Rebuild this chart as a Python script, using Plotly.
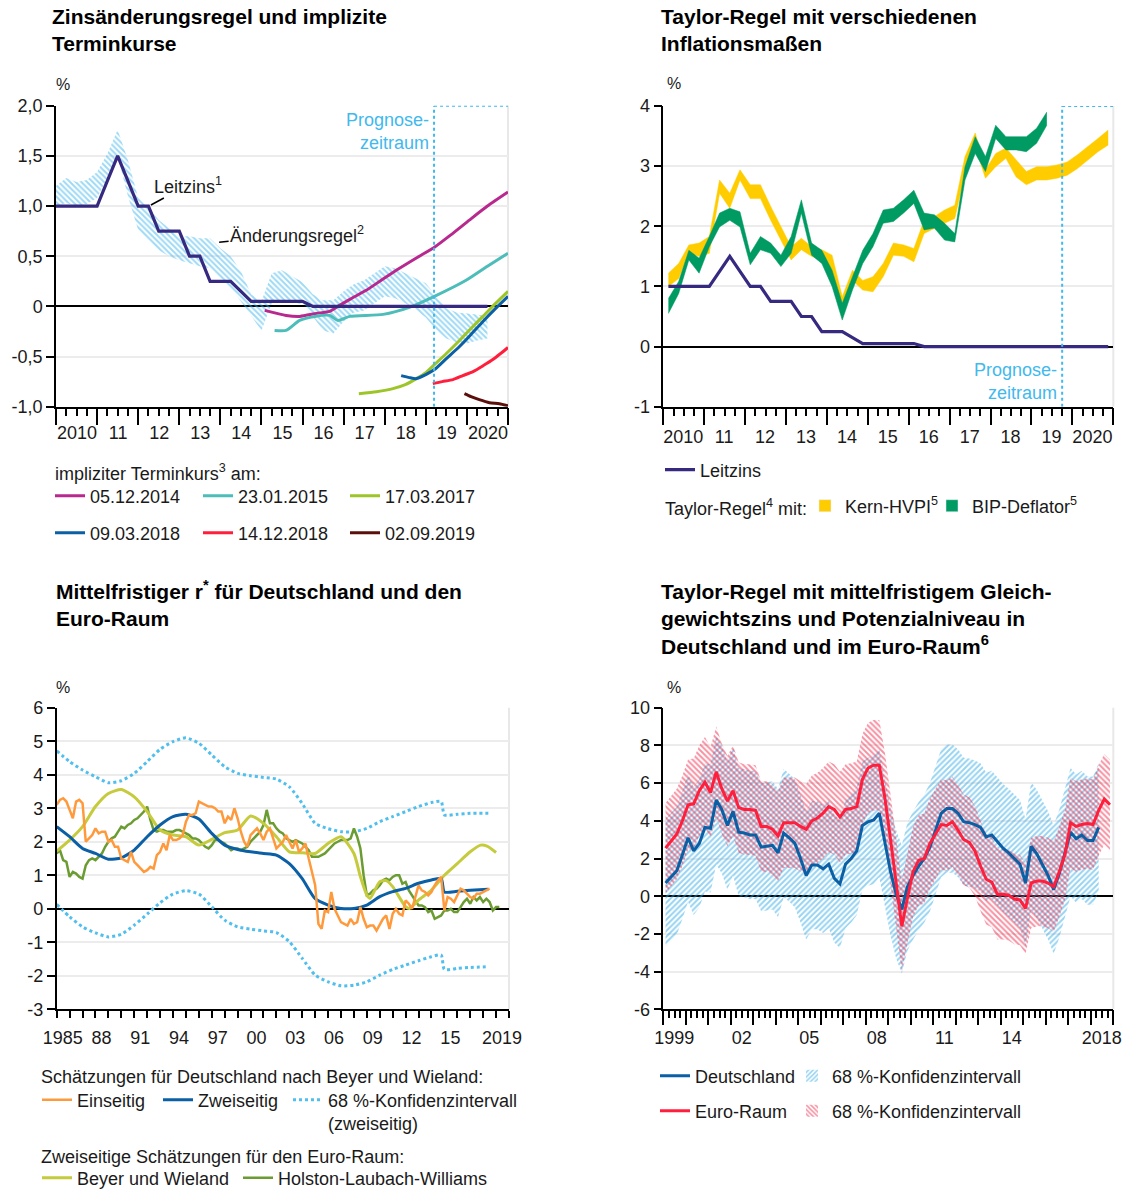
import plotly.graph_objects as go

W, H = 1126, 1191
FONT = "Liberation Sans, Arial, sans-serif"
TXT = "#1a1a1a"

# ================= Panel 1: Zinsänderungsregel und implizite Terminkurse =================
leitzins = [1.0, 1.0, 1.0, 1.0, 1.0, 1.25, 1.5, 1.25, 1.0, 1.0, 0.75, 0.75,
            0.75, 0.5, 0.5, 0.25, 0.25, 0.25, 0.15, 0.05, 0.05, 0.05, 0.05, 0.05,
            0.05, 0.0, 0.0, 0.0, 0.0, 0.0, 0.0, 0.0, 0.0, 0.0, 0.0, 0.0,
            0.0, 0.0, 0.0, 0.0, 0.0, 0.0, 0.0, 0.0]
rule_upper = [1.2, 1.28, 1.24, 1.26, 1.34, 1.52, 1.76, 1.46, 1.08, 0.98, 0.86, 0.78,
              0.7, 0.7, 0.68, 0.68, 0.58, 0.5, 0.35, 0.12, 0.05, 0.33, 0.36, 0.3,
              0.24, 0.12, 0.06, 0.06, 0.15, 0.22, 0.26, 0.33, 0.4, 0.38, 0.33, 0.28,
              0.23, 0.1, -0.02, -0.06, -0.07, -0.08, -0.1]
rule_lower = [1.0, 1.03, 1.0, 1.02, 1.08, 1.28, 1.5, 1.1, 0.76, 0.66, 0.56, 0.5,
              0.46, 0.43, 0.4, 0.38, 0.28, 0.18, 0.05, -0.1, -0.24, 0.03, 0.06, 0.04,
              0.02, -0.1, -0.24, -0.27, -0.15, -0.06, -0.04, 0.03, 0.1, 0.08, 0.03, -0.03,
              -0.11, -0.24, -0.32, -0.36, -0.37, -0.34, -0.32]

fwd_a_x = [2015.08, 2015.6, 2015.93, 2016.34, 2016.66, 2016.9, 2017.15, 2017.55, 2017.95, 2018.36, 2018.8, 2019.21, 2019.6, 2020.06, 2020.5, 2021.0]
fwd_a_y = [-0.04, -0.09, -0.1, -0.07, -0.05, 0.01, 0.07, 0.16, 0.27, 0.38, 0.49, 0.59, 0.71, 0.86, 1.0, 1.14]
fwd_b_x = [2015.32, 2015.6, 2015.93, 2016.3, 2016.66, 2016.86, 2017.15, 2017.96, 2018.6, 2019.21, 2019.98, 2020.5, 2021.0]
fwd_b_y = [-0.24, -0.24, -0.14, -0.1, -0.09, -0.14, -0.1, -0.08, -0.01, 0.1, 0.26, 0.4, 0.53]
fwd_c_x = [2017.37, 2017.8, 2018.2, 2018.5, 2018.77, 2019.0, 2019.21, 2019.5, 2019.82, 2020.1, 2020.39, 2020.7, 2021.0]
fwd_c_y = [-0.87, -0.85, -0.82, -0.78, -0.72, -0.66, -0.58, -0.47, -0.34, -0.22, -0.1, 0.03, 0.15]
fwd_d_x = [2018.4, 2018.6, 2018.77, 2019.0, 2019.21, 2019.5, 2019.82, 2020.1, 2020.39, 2020.7, 2021.0]
fwd_d_y = [-0.69, -0.71, -0.72, -0.68, -0.63, -0.52, -0.4, -0.28, -0.15, -0.02, 0.1]
fwd_e_x = [2019.17, 2019.4, 2019.66, 2019.9, 2020.15, 2020.4, 2020.63, 2020.82, 2021.0]
fwd_e_y = [-0.77, -0.75, -0.73, -0.69, -0.65, -0.59, -0.53, -0.47, -0.41]
fwd_f_x = [2019.94, 2020.1, 2020.3, 2020.55, 2020.79, 2021.0]
fwd_f_y = [-0.87, -0.9, -0.93, -0.96, -0.97, -0.99]
fwd_names = ["05.12.2014", "23.01.2015", "17.03.2017", "09.03.2018", "14.12.2018", "02.09.2019"]

prognose_p1 = 2019.2
prognose_p2 = 2019.75

year_ticks_p12 = list(range(2010, 2021))
year_text_p12 = ["2010", "11", "12", "13", "14", "15", "16", "17", "18", "19", "2020"]
year_bounds_p12 = list(range(2010, 2022))
y_vals_p1 = [-1.0, -0.5, 0.0, 0.5, 1.0, 1.5, 2.0]
y_text_p1 = ["-1,0", "-0,5", "0", "0,5", "1,0", "1,5", "2,0"]

# ================= Panel 2: Taylor-Regel mit verschiedenen Inflationsmaßen =================
hvpi_upper = [1.22, 1.38, 1.69, 1.72, 1.83, 2.77, 2.55, 2.94, 2.69, 2.69, 2.33, 1.99,
              1.66, 1.80, 1.66, 1.61, 1.52, 0.83, 1.27, 1.10, 1.16, 1.38, 1.72, 1.69,
              1.63, 2.10, 2.16, 2.27, 2.35, 3.16, 3.55, 2.94, 3.21, 3.30, 3.10, 2.91,
              2.99, 2.99, 3.02, 3.07, 3.19, 3.32, 3.46, 3.60]
hvpi_lower = [1.00, 1.13, 1.55, 1.50, 1.55, 2.55, 2.30, 2.77, 2.46, 2.46, 2.10, 1.77,
              1.44, 1.61, 1.50, 1.44, 1.16, 0.61, 1.10, 0.94, 0.91, 1.16, 1.52, 1.50,
              1.41, 1.88, 1.97, 2.05, 2.13, 2.88, 3.32, 2.80, 2.99, 3.13, 2.82, 2.69,
              2.77, 2.77, 2.80, 2.85, 2.96, 3.10, 3.24, 3.35]
defl_upper = [0.80, 1.08, 1.60, 1.47, 1.83, 2.22, 2.30, 2.24, 1.55, 1.83, 1.72, 1.52,
              1.83, 2.44, 1.72, 1.60, 1.27, 0.72, 1.16, 1.60, 1.88, 2.27, 2.30, 2.44,
              2.60, 2.22, 2.19, 2.05, 1.88, 2.99, 3.49, 3.16, 3.68, 3.49, 3.49, 3.49,
              3.63, 3.90]
defl_lower = [0.55, 0.88, 1.44, 1.22, 1.66, 1.99, 2.10, 1.99, 1.36, 1.61, 1.55, 1.33,
              1.55, 2.22, 1.52, 1.38, 1.00, 0.44, 0.94, 1.38, 1.66, 2.05, 2.08, 2.22,
              2.38, 1.94, 1.97, 1.77, 1.74, 2.77, 3.21, 2.91, 3.46, 3.27, 3.27, 3.24,
              3.38, 3.68]
y_vals_p2 = [-1, 0, 1, 2, 3, 4]
y_text_p2 = ["-1", "0", "1", "2", "3", "4"]

# ================= Panel 3: Mittelfristiger r* =================
einseitig = [3.1, 3.25, 3.3, 3.2, 2.95, 2.7, 3.2, 3.25, 3.15, 2.0, 2.1, 2.2,
             2.4, 2.25, 2.3, 2.3, 2.0, 2.05, 1.85, 1.85, 1.5, 1.45, 1.4, 1.7,
             1.4, 1.3, 1.2, 1.1, 1.15, 1.25, 1.2, 1.6, 1.7, 1.95, 1.75, 2.2,
             2.05, 2.05, 2.1, 2.2, 2.6, 2.8, 2.8, 2.85, 3.2, 3.15, 3.1, 3.05,
             3.05, 3.0, 2.9, 2.9, 2.55, 2.75, 2.65, 3.0, 2.7, 2.3, 2.0, 1.85,
             2.2, 2.3, 2.4, 2.25, 2.05, 2.3, 2.4, 2.1, 1.8, 1.9, 2.0, 2.2,
             2.0, 1.8, 2.05, 1.7, 1.8, 1.95, 1.5, 1.1, 0.7, -0.45, -0.6, -0.05,
             -0.1, 0.5, 0.0, -0.2, -0.4, -0.45, -0.5, -0.3, -0.45, -0.4, 0.05, -0.3,
             -0.55, -0.5, -0.5, -0.65, -0.45, -0.3, -0.2, -0.6, -0.15, 0.0, -0.15, -0.2,
             0.25, 0.15, 0.0, 0.35, 0.7, 0.55, 0.5, 0.4, 0.5, 0.7, 0.85, 0.95,
             -0.05, 0.35, 0.3, 0.2, 0.4, 0.6, 0.55, 0.45, 0.35, 0.3, 0.45, 0.45,
             0.5, 0.55, 0.6]
hlw = [1.65, 1.75, 1.45, 1.4, 0.95, 1.1, 1.05, 0.95, 0.9, 1.3, 1.45, 1.5,
       1.45, 1.55, 1.65, 1.85, 2.0, 2.1, 2.15, 2.3, 2.45, 2.4, 2.5, 2.55,
       2.65, 2.7, 2.8, 2.9, 3.05, 2.65, 2.35, 2.3, 2.35, 2.35, 2.3, 2.3,
       2.3, 2.35, 2.35, 2.3, 2.25, 2.2, 2.1, 2.1, 2.05, 1.95, 1.85, 1.8,
       1.9, 2.05, 2.05, 2.0, 1.95, 1.85, 1.75, 1.8, 1.8, 1.75, 1.8, 1.85,
       2.0, 2.1, 2.2, 2.3, 2.5, 2.95, 2.55, 2.55, 2.4, 2.3, 2.25, 2.1,
       2.05, 2.0, 2.05, 2.0, 1.95, 1.85, 1.75, 1.55, 1.55, 1.55, 1.6, 1.65,
       1.75, 1.85, 1.95, 2.0, 2.05, 2.05, 2.05, 2.1, 2.4, 2.15, 1.8, 1.0,
       0.4, 0.45, 0.55, 0.6, 0.7, 0.85, 0.9, 0.85, 0.95, 1.0, 1.0, 0.75,
       0.8, 0.55, 0.4, 0.25, 0.1, 0.1, 0.05, -0.1, -0.05, -0.3, -0.25, -0.2,
       -0.05, -0.05, 0.0, -0.1, -0.1, 0.05, 0.2, 0.3, 0.15, 0.35, 0.25, 0.35,
       0.2, 0.3, 0.2, -0.05, 0.05, 0.05]
zweiseitig_x = [1985, 1986, 1987, 1988, 1989, 1990, 1991, 1992, 1993, 1994, 1995, 1996,
                1997, 1998, 1999, 2000, 2001, 2002, 2003, 2004, 2005, 2006, 2007, 2008,
                2009, 2010, 2011, 2012, 2013, 2014, 2014.75, 2015.0, 2016, 2017, 2018.4]
zweiseitig = [2.45, 2.15, 1.8, 1.65, 1.48, 1.52, 1.75, 2.15, 2.5, 2.75, 2.82, 2.68,
              2.25, 1.9, 1.77, 1.7, 1.65, 1.6, 1.35, 0.9, 0.3, 0.11, 0.01, 0.01,
              0.11, 0.36, 0.51, 0.61, 0.76, 0.86, 0.9, 0.5, 0.52, 0.55, 0.58]
ci_upper = [4.71, 4.39, 4.14, 3.94, 3.76, 3.82, 4.04, 4.39, 4.76, 4.99, 5.1, 4.94,
            4.59, 4.24, 4.04, 3.97, 3.92, 3.87, 3.64, 3.14, 2.55, 2.39, 2.3, 2.3,
            2.4, 2.6, 2.75, 2.9, 3.05, 3.17, 3.2, 2.8, 2.82, 2.85, 2.85]
ci_lower = [0.13, -0.24, -0.54, -0.72, -0.84, -0.76, -0.49, -0.16, 0.18, 0.44, 0.54, 0.44,
            0.06, -0.34, -0.54, -0.61, -0.66, -0.71, -0.98, -1.48, -1.98, -2.18, -2.3, -2.28,
            -2.18, -1.98, -1.81, -1.68, -1.55, -1.43, -1.38, -1.81, -1.78, -1.75, -1.73]
bw_euro_x = [1985, 1986, 1987, 1988, 1989, 1990, 1991, 1992, 1993, 1994, 1995, 1996,
             1997, 1998, 1999, 2000, 2001, 2002, 2003, 2004, 2005, 2006, 2007, 2008,
             2008.5, 2009, 2009.25, 2010, 2010.5, 2011, 2012, 2012.3, 2013, 2014, 2015,
             2016, 2017, 2017.8, 2018.3, 2019.0]
bw_euro = [1.72, 2.05, 2.45, 3.05, 3.44, 3.56, 3.34, 2.9, 2.35, 2.2, 2.15, 1.9,
           2.07, 2.27, 2.35, 2.77, 2.55, 2.15, 1.7, 1.67, 1.65, 1.95, 2.15, 1.65,
           0.96, 0.41, 0.31, 0.81, 0.84, 0.66, 0.06, 0.01, 0.26, 0.56, 1.0,
           1.35, 1.7, 1.9, 1.87, 1.68]
x_ticks_p3 = [1985, 1988, 1991, 1994, 1997, 2000, 2003, 2006, 2009, 2012, 2015, 2019]
x_text_p3 = ["1985", "88", "91", "94", "97", "00", "03", "06", "09", "12", "15", "2019"]
y_vals_p3 = [-3, -2, -1, 0, 1, 2, 3, 4, 5, 6]
y_text_p3 = ["-3", "-2", "-1", "0", "1", "2", "3", "4", "5", "6"]

# ================= Panel 4: Taylor-Regel mit mittelfristigem Gleichgewichtszins =================
de_rate = [0.7, 1.0, 1.35, 2.2, 3.1, 2.4, 2.8, 3.65, 3.6, 5.1, 4.6, 3.75,
           4.5, 3.4, 3.35, 3.25, 3.25, 2.6, 2.65, 2.7, 2.3, 3.35, 3.1, 2.8,
           2.0, 1.1, 1.65, 1.65, 1.45, 1.7, 0.95, 0.65, 1.7, 2.0, 2.4, 3.75,
           3.95, 4.05, 4.4, 2.8, 1.3, 0.1, -0.7, 0.5, 1.1, 1.6, 2.0, 2.6,
           3.5, 4.4, 4.65, 4.65, 4.4, 3.95, 3.9, 3.8, 3.65, 3.15, 3.25, 2.9,
           2.55, 2.3, 2.0, 1.7, 0.7, 2.65, 2.25, 1.65, 1.1, 0.35, 1.2, 2.3,
           3.4, 3.05, 3.25, 2.95, 2.95, 3.65]
de_upper = [4.1, 4.4, 4.75, 5.6, 6.5, 5.8, 6.2, 7.05, 7.0, 8.5, 8.0, 7.15,
            7.9, 6.8, 6.75, 6.65, 6.65, 6.0, 6.05, 6.1, 5.7, 6.75, 6.5, 6.2,
            5.4, 4.5, 5.05, 5.05, 4.85, 5.1, 4.35, 4.05, 5.1, 5.4, 5.8, 7.15,
            7.35, 7.45, 7.8, 6.2, 4.7, 3.5, 2.7, 3.9, 4.5, 5.0, 5.4, 6.0,
            6.9, 7.8, 8.05, 8.05, 7.8, 7.35, 7.3, 7.2, 7.05, 6.55, 6.65, 6.3,
            5.95, 5.7, 5.4, 5.1, 4.1, 6.05, 5.65, 5.05, 4.5, 3.75, 4.6, 5.7,
            6.8, 6.45, 6.65, 6.35, 6.35, 7.05]
de_lower = [-2.7, -2.4, -2.05, -1.2, -0.3, -1.0, -0.6, 0.25, 0.2, 1.7, 1.2, 0.35,
            1.1, 0.0, -0.05, -0.15, -0.15, -0.8, -0.75, -0.7, -1.1, -0.05, -0.3, -0.6,
            -1.4, -2.3, -1.75, -1.75, -1.95, -1.7, -2.45, -2.75, -1.7, -1.4, -1.0, 0.35,
            0.55, 0.65, 1.0, -0.6, -2.1, -3.3, -4.1, -2.9, -2.3, -1.8, -1.4, -0.8,
            0.1, 1.0, 1.25, 1.25, 1.0, 0.55, 0.5, 0.4, 0.25, -0.25, -0.15, -0.5,
            -0.85, -1.1, -1.4, -1.7, -2.7, -0.75, -1.15, -1.75, -2.3, -3.05, -2.2, -1.1,
            0.0, -0.35, -0.15, -0.45, -0.45, 0.25]
ea_rate = [2.55, 2.9, 3.3, 4.0, 4.85, 4.9, 5.6, 6.05, 5.5, 6.6, 5.7, 5.05,
           5.6, 4.7, 4.6, 4.6, 4.55, 3.7, 3.7, 3.55, 3.2, 3.9, 3.9, 3.9,
           3.7, 3.55, 4.0, 4.15, 4.4, 4.75, 4.6, 4.2, 4.6, 4.65, 4.75, 6.2,
           6.8, 6.95, 6.95, 5.2, 3.0, 0.8, -1.6, -0.1, 1.3, 1.9, 2.0, 2.8,
           3.3, 3.8, 3.75, 3.95, 3.5, 3.0, 2.85, 2.4, 1.6, 0.9, 0.75, 0.1,
           0.1, 0.05, -0.15, -0.2, -0.65, 0.7, 0.8, 0.8, 0.7, 0.5, 1.3, 2.2,
           3.9, 3.7, 3.8, 3.85, 3.8, 4.55, 5.15, 4.85]
ea_upper = [4.95, 5.3, 5.7, 6.4, 7.25, 7.3, 8.0, 8.45, 7.9, 9.0, 8.1, 7.45,
            8.0, 7.1, 7.0, 7.0, 6.95, 6.1, 6.1, 5.95, 5.6, 6.3, 6.3, 6.3,
            6.1, 5.95, 6.4, 6.55, 6.8, 7.15, 7.0, 6.6, 7.0, 7.05, 7.15, 8.6,
            9.2, 9.35, 9.35, 7.6, 5.4, 3.2, 0.8, 2.3, 3.7, 4.3, 4.4, 5.2,
            5.7, 6.2, 6.15, 6.35, 5.9, 5.4, 5.25, 4.8, 4.0, 3.3, 3.15, 2.5,
            2.5, 2.45, 2.25, 2.2, 1.75, 3.1, 3.2, 3.2, 3.1, 2.9, 3.7, 4.6,
            6.3, 6.1, 6.2, 6.25, 6.2, 6.95, 7.55, 7.25]
ea_lower = [0.15, 0.5, 0.9, 1.6, 2.45, 2.5, 3.2, 3.65, 3.1, 4.2, 3.3, 2.65,
            3.2, 2.3, 2.2, 2.2, 2.15, 1.3, 1.3, 1.15, 0.8, 1.5, 1.5, 1.5,
            1.3, 1.15, 1.6, 1.75, 2.0, 2.35, 2.2, 1.8, 2.2, 2.25, 2.35, 3.8,
            4.4, 4.55, 4.55, 2.8, 0.6, -1.6, -4.0, -2.5, -1.1, -0.5, -0.4, 0.4,
            0.9, 1.4, 1.35, 1.55, 1.1, 0.6, 0.45, 0.0, -0.8, -1.5, -1.65, -2.3,
            -2.3, -2.35, -2.55, -2.6, -3.05, -1.7, -1.6, -1.6, -1.7, -1.9, -1.1, -0.2,
            1.5, 1.3, 1.4, 1.45, 1.4, 2.15, 2.75, 2.45]
x_ticks_p4 = [1999, 2002, 2005, 2008, 2011, 2014, 2018]
x_text_p4 = ["1999", "02", "05", "08", "11", "14", "2018"]
year_bounds_p4 = list(range(1999, 2020))
y_vals_p4 = [-6, -4, -2, 0, 2, 4, 6, 8, 10]
y_text_p4 = ["-6", "-4", "-2", "0", "2", "4", "6", "8", "10"]

# ================= colours =================
C_LEITZ = "#362a80"
C_HATCH = "#3db4ec"
C_MAG = "#b8298f"
C_TEAL = "#4dbdba"
C_YGR = "#9dc52a"
C_BLUE = "#0b5fa5"
C_RED = "#ff1f3d"
C_BROWN = "#5b0f0b"
C_PROG = "#3fb9ee"
C_YEL = "#ffcc00"
C_GRN = "#009a63"
C_ORA = "#ff9a3c"
C_OLY = "#c5cb3c"
C_HLW = "#6b9c32"
C_CI = "#50bfee"
C_DEB = "#2fa8e4"
C_EAR = "#ee2445"

fig = go.Figure()


def fx(p):
    return p / W


def fy(p):
    return 1 - p / H


# ---------- panel 1 traces ----------
q1 = [2010 + 0.25 * i for i in range(len(rule_upper))]
fig.add_trace(go.Scatter(x=q1, y=rule_lower, xaxis="x", yaxis="y", mode="lines",
                         line=dict(width=0, color=C_HATCH), showlegend=False, hoverinfo="skip"))
fig.add_trace(go.Scatter(x=q1, y=rule_upper, xaxis="x", yaxis="y", mode="lines",
                         line=dict(width=0, color=C_HATCH), fill="tonexty", fillcolor="rgba(0,0,0,0)",
                         fillpattern=dict(shape="\\", fgcolor=C_HATCH, bgcolor="rgba(0,0,0,0)",
                                          size=4, solidity=0.5),
                         showlegend=False, hoverinfo="skip"))
fwd_cols = [C_MAG, C_TEAL, C_YGR, C_BLUE, C_RED, C_BROWN]
fwd_xs = [fwd_a_x, fwd_b_x, fwd_c_x, fwd_d_x, fwd_e_x, fwd_f_x]
fwd_ys = [fwd_a_y, fwd_b_y, fwd_c_y, fwd_d_y, fwd_e_y, fwd_f_y]
for i, (xs, ys, col, nm) in enumerate(zip(fwd_xs, fwd_ys, fwd_cols, fwd_names)):
    fig.add_trace(go.Scatter(x=xs, y=ys, xaxis="x", yaxis="y", mode="lines", name=nm,
                             line=dict(color=col, width=3, shape="spline", smoothing=0.6),
                             legend="legend" if i == 0 else f"legend{i + 1}", hoverinfo="skip"))
fig.add_trace(go.Scatter(x=q1, y=leitzins[:len(q1)], xaxis="x", yaxis="y", mode="lines",
                         line=dict(color=C_LEITZ, width=3.2), showlegend=False, hoverinfo="skip"))

# ---------- panel 2 traces ----------
q2 = [2010.125 + 0.25 * i for i in range(len(leitzins))]
fig.add_trace(go.Scatter(x=q2[:len(hvpi_lower)], y=hvpi_lower, xaxis="x2", yaxis="y2", mode="lines",
                         line=dict(width=0.5, color=C_YEL), showlegend=False, hoverinfo="skip"))
fig.add_trace(go.Scatter(x=q2[:len(hvpi_upper)], y=hvpi_upper, xaxis="x2", yaxis="y2", mode="lines",
                         line=dict(width=0.5, color=C_YEL), fill="tonexty", fillcolor=C_YEL,
                         showlegend=False, hoverinfo="skip"))
fig.add_trace(go.Scatter(x=q2[:len(defl_lower)], y=defl_lower, xaxis="x2", yaxis="y2", mode="lines",
                         line=dict(width=0.5, color=C_GRN), showlegend=False, hoverinfo="skip"))
fig.add_trace(go.Scatter(x=q2[:len(defl_upper)], y=defl_upper, xaxis="x2", yaxis="y2", mode="lines",
                         line=dict(width=0.5, color=C_GRN), fill="tonexty", fillcolor=C_GRN,
                         showlegend=False, hoverinfo="skip"))
fig.add_trace(go.Scatter(x=q2, y=leitzins, xaxis="x2", yaxis="y2", mode="lines", name="Leitzins",
                         line=dict(color=C_LEITZ, width=3.2), legend="legend7", hoverinfo="skip"))
fig.add_trace(go.Bar(x=[None], y=[None], xaxis="x2", yaxis="y2", name="Kern-HVPI<sup>5</sup>",
                     marker=dict(color=C_YEL), legend="legend8", hoverinfo="skip"))
fig.add_trace(go.Bar(x=[None], y=[None], xaxis="x2", yaxis="y2", name="BIP-Deflator<sup>5</sup>",
                     marker=dict(color=C_GRN), legend="legend9", hoverinfo="skip"))

# ---------- panel 3 traces ----------
q3e = [1985 + 0.25 * i for i in range(len(einseitig))]
q3h = [1985 + 0.25 * i for i in range(len(hlw))]
fig.add_trace(go.Scatter(x=zweiseitig_x, y=ci_lower, xaxis="x3", yaxis="y3", mode="lines",
                         line=dict(color=C_CI, width=3, dash="dot", shape="spline", smoothing=0.6),
                         showlegend=False, hoverinfo="skip"))
fig.add_trace(go.Scatter(x=zweiseitig_x, y=ci_upper, xaxis="x3", yaxis="y3", mode="lines",
                         name="68 %-Konfidenzintervall<br>(zweiseitig)",
                         line=dict(color=C_CI, width=3, dash="dot", shape="spline", smoothing=0.6),
                         legend="legend12", hoverinfo="skip"))
fig.add_trace(go.Scatter(x=q3h, y=hlw, xaxis="x3", yaxis="y3", mode="lines",
                         name="Holston-Laubach-Williams", line=dict(color=C_HLW, width=2.5),
                         legend="legend14", hoverinfo="skip"))
fig.add_trace(go.Scatter(x=bw_euro_x, y=bw_euro, xaxis="x3", yaxis="y3", mode="lines",
                         name="Beyer und Wieland",
                         line=dict(color=C_OLY, width=3, shape="spline", smoothing=0.6),
                         legend="legend13", hoverinfo="skip"))
fig.add_trace(go.Scatter(x=zweiseitig_x, y=zweiseitig, xaxis="x3", yaxis="y3", mode="lines",
                         name="Zweiseitig",
                         line=dict(color=C_BLUE, width=3, shape="spline", smoothing=0.6),
                         legend="legend11", hoverinfo="skip"))
fig.add_trace(go.Scatter(x=q3e, y=einseitig, xaxis="x3", yaxis="y3", mode="lines",
                         name="Einseitig", line=dict(color=C_ORA, width=2.5),
                         legend="legend10", hoverinfo="skip"))

# ---------- panel 4 traces ----------
q4d = [1999.1 + 0.25 * i for i in range(len(de_rate))]
q4e = [1999.1 + 0.25 * i for i in range(len(ea_rate))]
fig.add_trace(go.Scatter(x=q4d, y=de_lower, xaxis="x4", yaxis="y4", mode="lines",
                         line=dict(width=0, color=C_DEB), showlegend=False, hoverinfo="skip"))
fig.add_trace(go.Scatter(x=q4d, y=de_upper, xaxis="x4", yaxis="y4", mode="lines",
                         line=dict(width=0, color=C_DEB), fill="tonexty", fillcolor="rgba(0,0,0,0)",
                         fillpattern=dict(shape="/", fgcolor=C_DEB, bgcolor="rgba(0,0,0,0)",
                                          size=4, solidity=0.5),
                         showlegend=False, hoverinfo="skip"))
fig.add_trace(go.Scatter(x=q4e, y=ea_lower, xaxis="x4", yaxis="y4", mode="lines",
                         line=dict(width=0, color=C_EAR), showlegend=False, hoverinfo="skip"))
fig.add_trace(go.Scatter(x=q4e, y=ea_upper, xaxis="x4", yaxis="y4", mode="lines",
                         line=dict(width=0, color=C_EAR), fill="tonexty", fillcolor="rgba(0,0,0,0)",
                         fillpattern=dict(shape="\\", fgcolor=C_EAR, bgcolor="rgba(0,0,0,0)",
                                          size=4, solidity=0.5),
                         showlegend=False, hoverinfo="skip"))
fig.add_trace(go.Scatter(x=q4d, y=de_rate, xaxis="x4", yaxis="y4", mode="lines", name="Deutschland",
                         line=dict(color=C_BLUE, width=3), legend="legend15", hoverinfo="skip"))
fig.add_trace(go.Scatter(x=q4e, y=ea_rate, xaxis="x4", yaxis="y4", mode="lines", name="Euro-Raum",
                         line=dict(color=C_RED, width=3), legend="legend17", hoverinfo="skip"))
fig.add_trace(go.Bar(x=[None], y=[None], xaxis="x4", yaxis="y4", name="68 %-Konfidenzintervall",
                     marker=dict(color="rgba(0,0,0,0)", line=dict(width=0),
                                 pattern=dict(shape="/", fgcolor=C_DEB, bgcolor="rgba(0,0,0,0)",
                                              size=4, solidity=0.5)),
                     legend="legend16", hoverinfo="skip"))
fig.add_trace(go.Bar(x=[None], y=[None], xaxis="x4", yaxis="y4", name="68 %-Konfidenzintervall",
                     marker=dict(color="rgba(0,0,0,0)", line=dict(width=0),
                                 pattern=dict(shape="\\", fgcolor=C_EAR, bgcolor="rgba(0,0,0,0)",
                                              size=4, solidity=0.5)),
                     legend="legend18", hoverinfo="skip"))

# invisible traces that carry the overlay axes with the long yearly ticks
for xa, ya in [("x5", "y"), ("x6", "y2"), ("x7", "y4")]:
    fig.add_trace(go.Scatter(x=[None], y=[None], xaxis=xa, yaxis=ya, mode="lines",
                             showlegend=False, hoverinfo="skip"))

# ---------- axes ----------
tickfont = dict(family=FONT, size=18, color=TXT)


def xax(dom, rng, tv, tt, ticklen, shift, minor_dtick=None, minor_len=8, standoff=0):
    d = dict(domain=[fx(dom[0]), fx(dom[1])], range=rng, tickmode="array", tickvals=tv, ticktext=tt,
             ticks="outside", ticklen=ticklen, tickwidth=1.5, tickcolor="black",
             showline=True, linecolor="black", linewidth=1.5, showgrid=False, zeroline=False,
             tickfont=tickfont, ticklabelshift=shift, ticklabelstandoff=standoff, fixedrange=True,
             automargin=False)
    if minor_dtick:
        d["minor"] = dict(dtick=minor_dtick, tick0=rng[0], ticks="outside", ticklen=minor_len,
                          tickwidth=1.5, tickcolor="black", showgrid=False)
    return d


def xover(dom, rng, tv, ticklen, over, anchor):
    return dict(domain=[fx(dom[0]), fx(dom[1])], range=rng, tickmode="array", tickvals=tv,
                showticklabels=False, ticks="outside", ticklen=ticklen, tickwidth=1.5,
                tickcolor="black", showline=False, showgrid=False, zeroline=False,
                overlaying=over, anchor=anchor, side="bottom", fixedrange=True, automargin=False)


def yax(dom, rng, tv, tt, anchor):
    return dict(domain=[fy(dom[1]), fy(dom[0])], range=rng, tickmode="array", tickvals=tv, ticktext=tt,
                ticks="outside", ticklen=8, tickwidth=1.5, tickcolor="black",
                showline=True, linecolor="black", linewidth=1.5, showgrid=True,
                gridcolor="#ececec", gridwidth=2, zeroline=True, zerolinecolor="black",
                zerolinewidth=1.5, tickfont=tickfont, anchor=anchor, fixedrange=True,
                automargin=False)


P1 = dict(x=(56, 508), y=(105.7, 406.7))
P2 = dict(x=(663.3, 1113.3), y=(106, 406.7))
P3 = dict(x=(56.7, 509), y=(707.7, 1009.3))
P4 = dict(x=(663.3, 1113.3), y=(707.7, 1009.3))

fig.update_layout(
    xaxis=dict(**xax(P1["x"], [2010, 2021], year_ticks_p12, year_text_p12, 9, 21, 0.25), anchor="y"),
    yaxis=yax(P1["y"], [-1.0, 2.0], y_vals_p1, y_text_p1, "x"),
    xaxis2=dict(**xax(P2["x"], [2010, 2021], year_ticks_p12, year_text_p12, 13, 20, 0.25), anchor="y2"),
    yaxis2=yax(P2["y"], [-1, 4], y_vals_p2, y_text_p2, "x2"),
    xaxis3=dict(**xax(P3["x"], [1985, 2020], x_ticks_p3, x_text_p3, 7, 6, 1, 7, 4), anchor="y3"),
    yaxis3=yax(P3["y"], [-3, 6], y_vals_p3, y_text_p3, "x3"),
    xaxis4=dict(**xax(P4["x"], [1999, 2019], x_ticks_p4, x_text_p4, 11, 11, 0.25, 7), anchor="y4"),
    yaxis4=yax(P4["y"], [-6, 10], y_vals_p4, y_text_p4, "x4"),
    xaxis5=xover(P1["x"], [2010, 2021], year_bounds_p12, 17, "x", "y"),
    xaxis6=xover(P2["x"], [2010, 2021], year_bounds_p12, 17, "x2", "y2"),
    xaxis7=xover(P4["x"], [1999, 2019], year_bounds_p4, 15, "x4", "y4"),
)

# ---------- legends (one per entry, so each sits where the reference puts it) ----------
lfont = dict(family=FONT, size=18, color=TXT)


def leg(sym_x, row_y, valign="middle"):
    # sym_x: left end of the legend symbol, row_y: vertical centre of the entry (pixels)
    return dict(x=fx(sym_x - 5), y=fy(row_y - 19.5), xanchor="left", yanchor="top", orientation="h",
                font=lfont, bgcolor="rgba(0,0,0,0)", borderwidth=0, valign=valign,
                itemclick=False, itemdoubleclick=False)


def leg_sq(center_x, row_y):
    return leg(center_x - 15, row_y)


fig.update_layout(
    showlegend=True,
    legend=leg(55, 497), legend2=leg(203, 497), legend3=leg(350, 497),
    legend4=leg(55, 534), legend5=leg(203, 534), legend6=leg(350, 534),
    legend7=leg(665, 471), legend8=leg_sq(825, 507), legend9=leg_sq(952, 507),
    legend10=leg(42, 1101), legend11=leg(163, 1101), legend12=leg(293, 1101, valign="top"),
    legend13=leg(42, 1179), legend14=leg(243, 1179),
    legend15=leg(660, 1077), legend16=leg_sq(812, 1077),
    legend17=leg(660, 1112), legend18=leg_sq(812, 1112),
)

# ---------- shapes ----------
shapes = []
for xr, yr in [("x", "y"), ("x2", "y2"), ("x3", "y3"), ("x4", "y4")]:
    shapes.append(dict(type="line", xref=f"{xr} domain", yref=f"{yr} domain", x0=1, x1=1, y0=0, y1=1,
                       line=dict(color="#e8e8e8", width=2), layer="below"))
shapes.append(dict(type="line", xref="x", yref="y", x0=prognose_p1, x1=prognose_p1, y0=-1.0, y1=2.0,
                   line=dict(color=C_PROG, width=2, dash="dot")))
shapes.append(dict(type="line", xref="x", yref="y", x0=prognose_p1, x1=2021, y0=2.0, y1=2.0,
                   line=dict(color=C_PROG, width=2, dash="dot")))
shapes.append(dict(type="line", xref="x2", yref="y2", x0=prognose_p2, x1=prognose_p2, y0=-1, y1=4,
                   line=dict(color=C_PROG, width=2, dash="dot")))
shapes.append(dict(type="line", xref="x2", yref="y2", x0=prognose_p2, x1=2021, y0=4, y1=4,
                   line=dict(color=C_PROG, width=2, dash="dot")))
fig.update_layout(shapes=shapes)

# ---------- annotations ----------
ann = []
tfont = dict(family=FONT, size=21, color="black")
for xp, yp, t in [(50, 3, "<b>Zinsänderungsregel und implizite<br>Terminkurse</b>"),
                  (659, 3, "<b>Taylor-Regel mit verschiedenen<br>Inflationsmaßen</b>"),
                  (54, 575, "<b>Mittelfristiger r<sup>*</sup> für Deutschland und den<br>Euro-Raum</b>"),
                  (659, 578, "<b>Taylor-Regel mit mittelfristigem Gleich-<br>gewichtszins und Potenzialniveau in<br>Deutschland und im Euro-Raum<sup>6</sup></b>")]:
    ann.append(dict(xref="paper", yref="paper", x=fx(xp), y=fy(yp), xanchor="left", yanchor="top",
                    align="left", text=t, showarrow=False, font=tfont))
for xp, yp in [(54, 85), (665, 84), (54, 687), (665, 687)]:
    ann.append(dict(xref="paper", yref="paper", x=fx(xp), y=fy(yp), xanchor="left", yanchor="middle",
                    text="%", showarrow=False, font=dict(family=FONT, size=16, color=TXT)))
for xp, yp, t in [(53, 472, "impliziter Terminkurs<sup>3</sup> am:"),
                  (663, 507, "Taylor-Regel<sup>4</sup> mit:"),
                  (39, 1077, "Schätzungen für Deutschland nach Beyer und Wieland:"),
                  (39, 1157, "Zweiseitige Schätzungen für den Euro-Raum:")]:
    ann.append(dict(xref="paper", yref="paper", x=fx(xp), y=fy(yp), xanchor="left", yanchor="middle",
                    text=t, showarrow=False, font=lfont))
ann.append(dict(xref="x", yref="y", x=prognose_p1, y=2.0, xanchor="right", yanchor="top",
                xshift=-3, yshift=-2, align="right", text="Prognose-<br>zeitraum", showarrow=False,
                font=dict(family=FONT, size=18, color=C_PROG)))
ann.append(dict(xref="x2", yref="y2", x=prognose_p2, y=-1, xanchor="right", yanchor="bottom",
                xshift=-3, yshift=2, align="right", text="Prognose-<br>zeitraum", showarrow=False,
                font=dict(family=FONT, size=18, color=C_PROG)))
ann.append(dict(xref="x", yref="y", x=2012.31, y=1.01, ax=37, ay=-20, axref="pixel", ayref="pixel",
                text="Leitzins<sup>1</sup>", showarrow=True, arrowhead=0, arrowwidth=1.5,
                arrowcolor="black", font=dict(family=FONT, size=18, color=TXT)))
ann.append(dict(xref="x", yref="y", x=2013.97, y=0.64, ax=78, ay=-8, axref="pixel", ayref="pixel",
                text="Änderungsregel<sup>2</sup>", showarrow=True, arrowhead=0, arrowwidth=1.5,
                arrowcolor="black", font=dict(family=FONT, size=18, color=TXT)))
fig.update_layout(annotations=ann)

fig.update_layout(width=W, height=H, margin=dict(l=0, r=0, t=0, b=0, pad=0, autoexpand=False),
                  autosize=False, plot_bgcolor="white", paper_bgcolor="white",
                  font=dict(family=FONT, color=TXT), barmode="overlay", hovermode=False)

fig.write_html("out.html", config={"displayModeBar": False},
               post_script="document.body.style.margin='0';document.body.style.overflow='hidden';")
